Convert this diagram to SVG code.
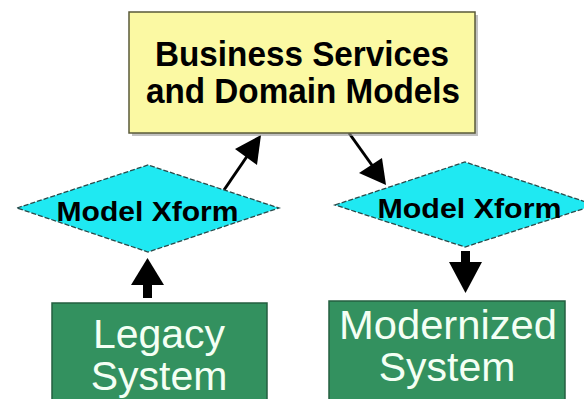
<svg xmlns="http://www.w3.org/2000/svg" width="584" height="399" viewBox="0 0 584 399">
<style>
.shadow{fill:#9a9a9a;opacity:0.6}
.yellow{fill:#fbf9a3;stroke:#5a5a3a;stroke-width:1.5}
.diamond{fill:#1fe9f2;stroke:#2a4a4a;stroke-width:1.3;stroke-dasharray:5 2}
.green{fill:#33915f;stroke:#245f40;stroke-width:1.5}
.tb{font-family:"Liberation Sans",Arial,sans-serif;font-weight:bold;fill:#000;text-anchor:middle}
.tw{font-family:"Liberation Sans",Arial,sans-serif;fill:#f4fff4;text-anchor:middle}
.conn{stroke:#000;stroke-width:3;fill:none}
.head{fill:#000}
</style>
<rect width="584" height="399" fill="#ffffff"/>
<g id="connectors">
  <line class="conn" x1="224" y1="190" x2="250" y2="152"/>
  <polygon class="head" points="261,135 235,149 257,165"/>
  <line class="conn" x1="349" y1="133" x2="374" y2="168"/>
  <polygon class="head" points="386,185 359,173 382,158"/>
  <rect class="head" x="143" y="283" width="9" height="15"/>
  <polygon class="head" points="147.5,258 131,285 164,285"/>
  <rect class="head" x="461" y="251" width="9" height="13"/>
  <polygon class="head" points="465.5,293 449,262 482,262"/>
</g>
<g id="business">
  <rect class="shadow" x="132" y="15" width="346" height="121"/>
  <rect class="yellow" x="129" y="12" width="346" height="121"/>
  <text class="tb" x="302" y="66" font-size="35" textLength="294" lengthAdjust="spacingAndGlyphs">Business Services</text>
  <text class="tb" x="303" y="103" font-size="35" textLength="314" lengthAdjust="spacingAndGlyphs">and Domain Models</text>
</g>
<g id="xform-left">
  <polygon class="diamond" points="17,208 148,165 279,208 148,252"/>
  <text class="tb" x="147.5" y="221" font-size="28" textLength="182" lengthAdjust="spacingAndGlyphs">Model Xform</text>
</g>
<g id="xform-right">
  <polygon class="diamond" points="335,205 465,162 595,205 465,247"/>
  <text class="tb" x="469.5" y="218" font-size="28" textLength="184" lengthAdjust="spacingAndGlyphs">Model Xform</text>
</g>
<g id="legacy">
  <rect class="green" x="52" y="303" width="215" height="110"/>
  <text class="tw" x="159" y="348" font-size="41">Legacy</text>
  <text class="tw" x="159" y="390" font-size="41">System</text>
</g>
<g id="modernized">
  <rect class="green" x="329" y="301" width="236" height="110"/>
  <text class="tw" x="448" y="339" font-size="41" textLength="218" lengthAdjust="spacingAndGlyphs">Modernized</text>
  <text class="tw" x="447" y="381" font-size="41">System</text>
</g>
</svg>
